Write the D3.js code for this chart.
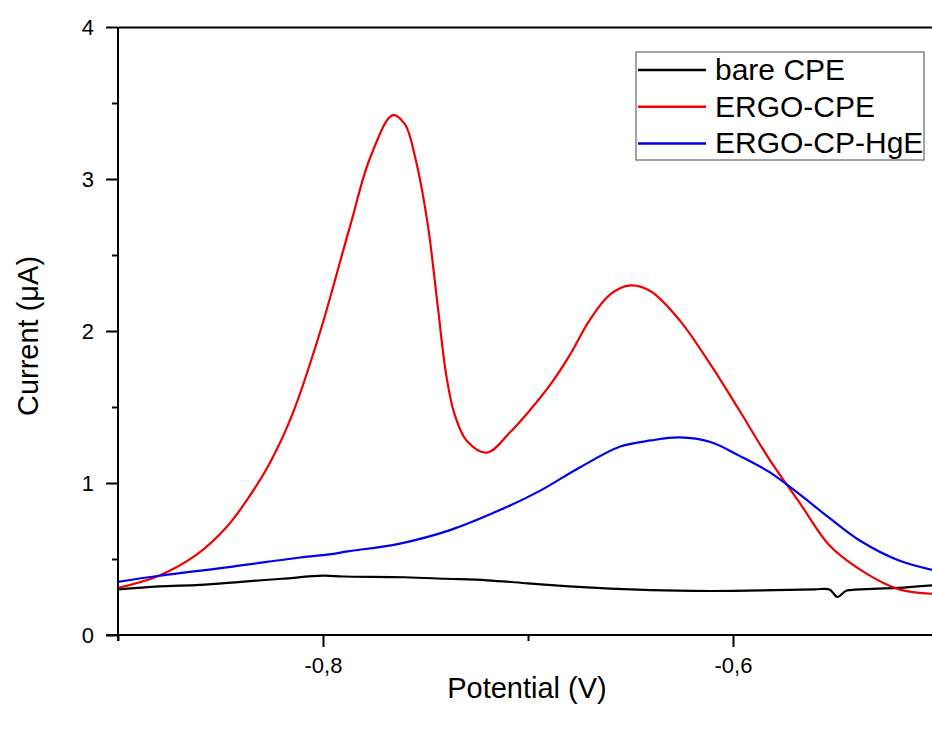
<!DOCTYPE html>
<html>
<head>
<meta charset="utf-8">
<script src="https://cdn.jsdelivr.net/npm/d3@7"></script>
<style>
  body { margin: 0; background: #fff; }
  svg { display: block; font-family: "Liberation Sans", Arial, sans-serif; }
</style>
</head>
<body>
<svg id="chart" width="932" height="729"></svg>
<script>
// data (potential in V, current in uA)
var bareV = [-0.9, -0.88, -0.86, -0.84, -0.82, -0.80, -0.79, -0.76, -0.74, -0.72, -0.70, -0.68, -0.66, -0.64, -0.62, -0.60, -0.58, -0.56, -0.553, -0.549, -0.545, -0.538, -0.52, -0.50];
var bareI = [0.30, 0.32, 0.33, 0.35, 0.37, 0.39, 0.385, 0.38, 0.37, 0.36, 0.34, 0.32, 0.305, 0.295, 0.29, 0.29, 0.295, 0.30, 0.30, 0.25, 0.29, 0.30, 0.31, 0.33];

var ergoV = [-0.9, -0.88, -0.8615, -0.847, -0.836, -0.826, -0.815, -0.8015, -0.787, -0.777, -0.766, -0.76, -0.755, -0.749, -0.744, -0.74, -0.736, -0.73, -0.72, -0.709, -0.699, -0.6895, -0.6797, -0.67, -0.66, -0.65, -0.64, -0.626, -0.611, -0.597, -0.582, -0.567, -0.553, -0.538, -0.519, -0.5];
var ergoI = [0.31, 0.39, 0.53, 0.71, 0.91, 1.13, 1.45, 1.99, 2.68, 3.14, 3.42, 3.36, 3.14, 2.71, 2.16, 1.72, 1.46, 1.28, 1.20, 1.33, 1.48, 1.64, 1.84, 2.07, 2.24, 2.30, 2.26, 2.07, 1.78, 1.48, 1.15, 0.86, 0.59, 0.43, 0.30, 0.27];

var hgV = [-0.9, -0.88, -0.844, -0.811, -0.797, -0.788, -0.763, -0.738, -0.714, -0.694, -0.675, -0.655, -0.64, -0.626, -0.611, -0.597, -0.582, -0.567, -0.553, -0.538, -0.519, -0.5];
var hgI = [0.35, 0.39, 0.45, 0.51, 0.53, 0.55, 0.60, 0.69, 0.82, 0.95, 1.10, 1.24, 1.28, 1.30, 1.27, 1.18, 1.07, 0.92, 0.77, 0.62, 0.49, 0.42];

var seriesNames = ["bare CPE", "ERGO-CPE", "ERGO-CP-HgE"];
var seriesColors = ["#000000", "#ee0000", "#0000ee"];
var xMajorTicks = [-0.8, -0.6];
var xMinorTicks = [-0.9, -0.7, -0.5];
var yMajorTicks = [0, 1, 2, 3, 4];
var yMinorTicks = [0.5, 1.5, 2.5, 3.5];

var svg = d3.select("#chart");

var x = d3.scaleLinear().domain([-0.9, -0.5]).range([118, 938]);
var y = d3.scaleLinear().domain([0, 4]).range([635, 27]);

function zip(vs, is) {
  return vs.map(function(v, i) { return [v, is[i]]; });
}
var series = [zip(bareV, bareI), zip(ergoV, ergoI), zip(hgV, hgI)];

// clip for the plot area
svg.append("defs").append("clipPath").attr("id", "clip")
  .append("rect").attr("x", 118).attr("y", 27).attr("width", 820).attr("height", 608);

var line = d3.line()
  .x(function(d) { return x(d[0]); })
  .y(function(d) { return y(d[1]); })
  .curve(d3.curveCatmullRom.alpha(0.5));

svg.append("g").attr("clip-path", "url(#clip)")
  .selectAll("path")
  .data(series)
  .enter().append("path")
  .attr("d", line)
  .attr("fill", "none")
  .attr("stroke", function(d, i) { return seriesColors[i]; })
  .attr("stroke-width", 2.2)
  .attr("stroke-linejoin", "round");

// axes
var fmt = function(d) { return d3.format(".1f")(d).replace("−", "-").replace(".", ","); };

var xAxis = svg.append("g").attr("transform", "translate(0,635)")
  .call(d3.axisBottom(x).tickValues(xMajorTicks).tickSize(12).tickPadding(10).tickFormat(fmt));
var xMinor = svg.append("g").attr("transform", "translate(0,635)")
  .call(d3.axisBottom(x).tickValues(xMinorTicks).tickSize(6).tickFormat(""));

var yAxis = svg.append("g").attr("transform", "translate(118,0)")
  .call(d3.axisLeft(y).tickValues(yMajorTicks).tickSize(12).tickPadding(12).tickFormat(d3.format("d")));
var yMinor = svg.append("g").attr("transform", "translate(118,0)")
  .call(d3.axisLeft(y).tickValues(yMinorTicks).tickSize(6).tickFormat(""));

// top frame line
var xTop = svg.append("g").attr("transform", "translate(0,27)")
  .call(d3.axisTop(x).tickValues([]).tickSizeOuter(0));

[xAxis, xMinor, yAxis, yMinor, xTop].forEach(function(g) {
  g.selectAll(".domain").attr("stroke", "#000").attr("stroke-width", 2);
  g.selectAll(".tick line").attr("stroke", "#000").attr("stroke-width", 2);
  g.selectAll(".tick text").attr("fill", "#000").style("font-size", "22px")
    .style("font-family", "Liberation Sans, Arial, sans-serif");
});
xMinor.select(".domain").remove();
yMinor.select(".domain").remove();
xAxis.select(".domain").attr("d", "M106,0H938");
yAxis.select(".domain").attr("d", "M0,641V27");

// axis titles
svg.append("text")
  .attr("x", 527).attr("y", 698)
  .attr("text-anchor", "middle")
  .style("font-size", "29px")
  .text("Potential (V)");

svg.append("text")
  .attr("transform", "translate(38,336) rotate(-90)")
  .attr("text-anchor", "middle")
  .style("font-size", "29px")
  .text("Current (μA)");

// legend
var legend = svg.append("g");
legend.append("rect")
  .attr("x", 636).attr("y", 52).attr("width", 288).attr("height", 108)
  .attr("fill", "#fff").attr("stroke", "#666").attr("stroke-width", 1.2);

var items = legend.selectAll("g.item")
  .data(seriesNames)
  .enter().append("g")
  .attr("class", "item")
  .attr("transform", function(d, i) { return "translate(0," + (70 + i * 36.7) + ")"; });

items.append("line")
  .attr("x1", 638).attr("x2", 706)
  .attr("stroke", function(d, i) { return seriesColors[i]; })
  .attr("stroke-width", 2.5);

items.append("text")
  .attr("x", 715).attr("y", 10)
  .style("font-size", "30px")
  .text(function(d) { return d; });
</script>
</body>
</html>
